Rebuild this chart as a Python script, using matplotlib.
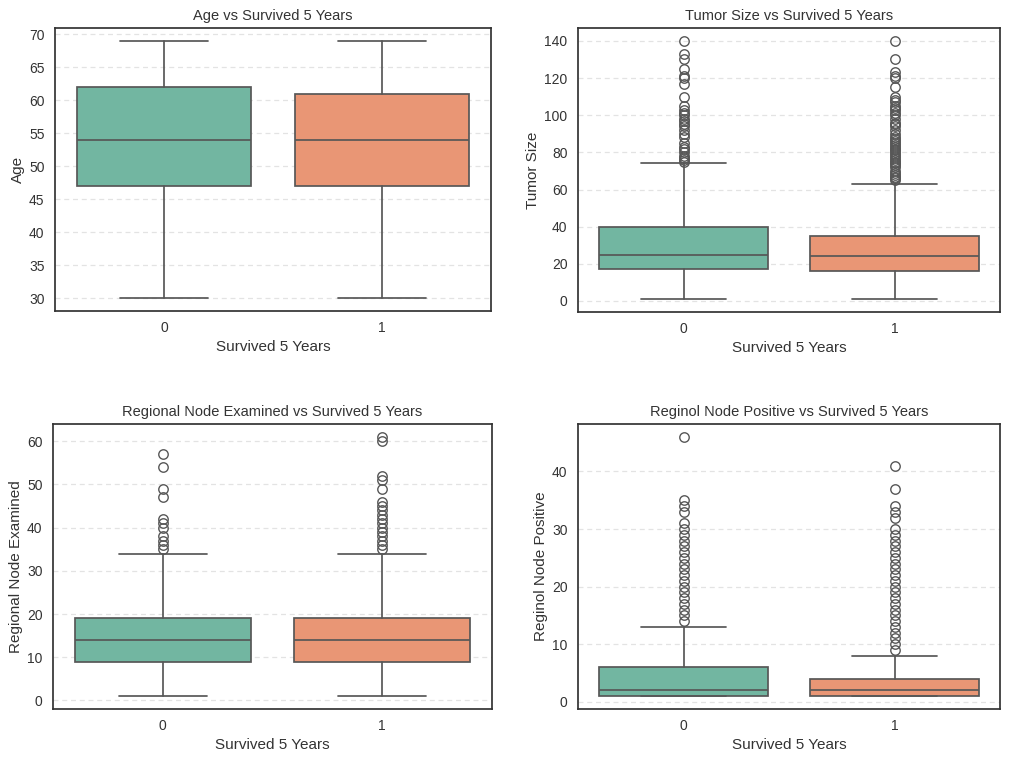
import matplotlib
matplotlib.use('Agg')
import matplotlib.pyplot as plt
import seaborn as sns

sns.set_theme(style='white')
plt.rcParams['font.family'] = ['Liberation Sans', 'DejaVu Sans']

# 分组
groups = ['0', '1']
colors = ['#72b6a1', '#e99675']

# 各变量箱线统计量: (whislo, q1, med, q3, whishi)
age_stats = [(30, 47, 54, 62, 69), (30, 47, 54, 61, 69)]
age_fliers = [[], []]

tumor_stats = [(1, 17, 25, 40, 74), (1, 16, 24, 35, 63)]
tumor_fliers = [
    [75, 76, 77, 78, 80, 82, 83, 85, 88, 90, 92, 94, 95, 97, 98, 100, 101,
     103, 105, 110, 117, 120, 121, 125, 130, 133, 140],
    [65, 66, 67, 68, 69, 70, 72, 73, 74, 75, 76, 77, 78, 79, 80, 81, 82, 83,
     84, 85, 86, 87, 88, 90, 92, 94, 95, 96, 98, 100, 101, 103, 104, 105,
     107, 108, 110, 115, 120, 121, 123, 130, 140],
]

examined_stats = [(1, 9, 14, 19, 34), (1, 9, 14, 19, 34)]
examined_fliers = [
    [35, 36, 37, 38, 40, 41, 42, 47, 49, 54, 57],
    [35, 36, 37, 38, 39, 40, 41, 42, 43, 44, 45, 46, 49, 51, 52, 60, 61],
]

positive_stats = [(1, 1, 2, 6, 13), (1, 1, 2, 4, 8)]
positive_fliers = [
    [14, 15, 16, 17, 18, 19, 20, 21, 22, 23, 24, 25, 26, 27, 28, 29, 30, 31,
     33, 34, 35, 46],
    [9, 10, 11, 12, 13, 14, 15, 16, 17, 18, 19, 20, 21, 22, 23, 24, 25, 26,
     27, 28, 29, 30, 32, 33, 34, 37, 41],
]

panels = [
    ('Age', age_stats, age_fliers, [55, 28, 491, 311]),
    ('Tumor Size', tumor_stats, tumor_fliers, [578, 28, 1000, 312]),
    ('Regional Node Examined', examined_stats, examined_fliers, [53, 424, 492, 709]),
    ('Reginol Node Positive', positive_stats, positive_fliers, [578, 424, 1000, 709]),
]

W, H = 1024, 761
fig = plt.figure(figsize=(W / 100, H / 100), dpi=100, facecolor='white')
line_c = '0.34'

for name, stats, fliers, (x0, y0, x1, y1) in panels:
    ax = fig.add_axes([x0 / W, 1 - y1 / H, (x1 - x0) / W, (y1 - y0) / H])
    bstats = []
    for (lo, q1, med, q3, hi), fl in zip(stats, fliers):
        bstats.append({'whislo': lo, 'q1': q1, 'med': med, 'q3': q3,
                       'whishi': hi, 'fliers': fl})
    bp = ax.bxp(bstats, positions=[0, 1], widths=0.8, patch_artist=True,
                boxprops=dict(edgecolor=line_c, linewidth=1.25),
                medianprops=dict(color=line_c, linewidth=1.25),
                whiskerprops=dict(color=line_c, linewidth=1.25),
                capprops=dict(color=line_c, linewidth=1.25),
                capwidths=0.4,
                flierprops=dict(marker='o', markersize=6.8, markerfacecolor='none',
                                markeredgecolor=line_c, markeredgewidth=1.0,
                                linestyle='none'))
    for patch, c in zip(bp['boxes'], colors):
        patch.set_facecolor(c)
    ax.set_xlim(-0.5, 1.5)
    ax.set_xticks([0, 1])
    ax.set_xticklabels(groups)
    ax.set_axisbelow(True)
    ax.yaxis.grid(True, linestyle=(0, (4, 3)), color='#dcdcdc', alpha=0.8, linewidth=0.9)
    ax.xaxis.grid(False)
    for sp in ax.spines.values():
        sp.set_color('#333333')
        sp.set_linewidth(1.25)
    ax.tick_params(labelsize=10, colors='#333333', length=0, pad=7.5)
    ax.set_title(f'{name} vs Survived 5 Years', fontsize=10.5, color='#333333')
    ax.set_xlabel('Survived 5 Years', fontsize=11, color='#333333', labelpad=3)
    ax.set_ylabel(name, fontsize=11, color='#333333', labelpad=3)

plt.savefig('out.png', dpi=100)
